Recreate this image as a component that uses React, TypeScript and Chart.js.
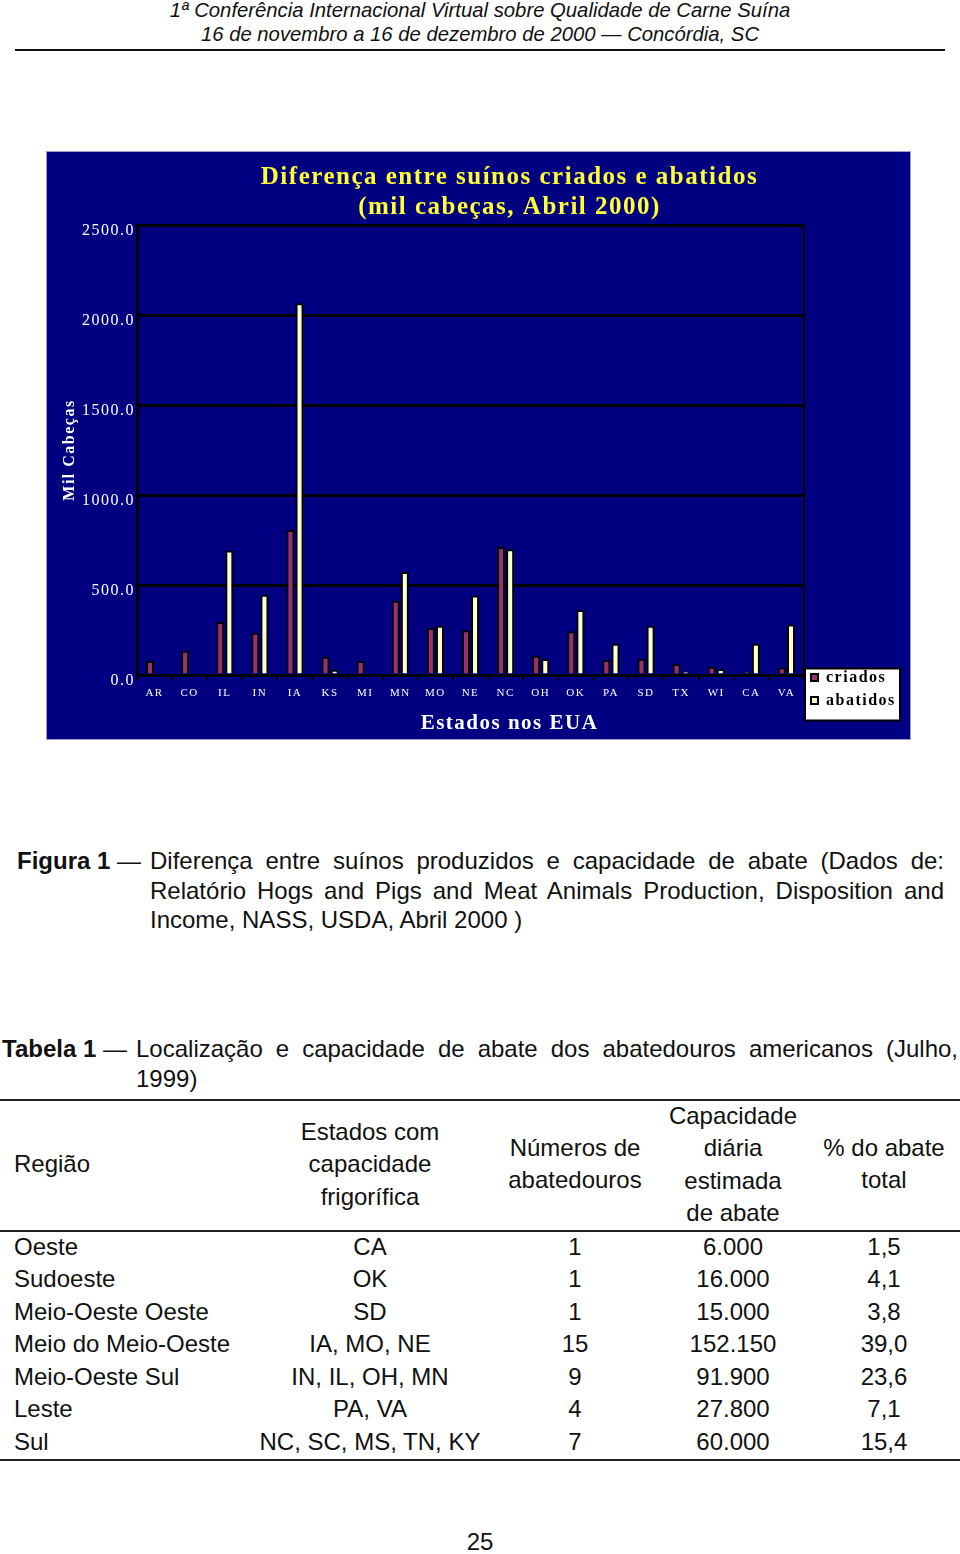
import React, { useEffect, useRef } from "react";
import { Chart, registerables } from "chart.js";

Chart.register(...registerables);

const SERIF = "'Liberation Serif', 'Times New Roman', serif";
const SANS = "'Liberation Sans', Arial, Helvetica, sans-serif";

// ---- chart data ----
const states = ["AR", "CO", "IL", "IN", "IA", "KS", "MI", "MN", "MO", "NE", "NC", "OH", "OK", "PA", "SD", "TX", "WI", "CA", "VA"];
const criados = [78, 135, 294, 235, 806, 102, 78, 413, 261, 248, 711, 107, 243, 83, 89, 61, 46, 20, 41];
const abatidos = [0, 0, 691, 446, 2065, 28, 0, 572, 274, 441, 698, 89, 361, 174, 274, 20, 33, 174, 280];
const seriesNames = ["criados", "abatidos"];
const chartTitle = ["Diferença entre suínos criados e abatidos", "(mil cabeças, Abril 2000)"];
const yAxisTitle = "Mil Cabeças";
const xAxisTitle = "Estados nos EUA";
const yMin = 0;
const yMax = 2500;
const yStep = 500;

// ---- page text ----
const headerLines = [
  "1ª Conferência Internacional Virtual sobre Qualidade de Carne Suína",
  "16 de novembro a 16 de dezembro de 2000 — Concórdia, SC",
];
const figLabel = "Figura 1";
const figLines = [
  "Diferença entre suínos produzidos e capacidade de abate (Dados de:",
  "Relatório Hogs and Pigs and Meat Animals Production, Disposition and",
  "Income, NASS, USDA, Abril 2000 )",
];
const tabLabel = "Tabela 1";
const tabLines = [
  "Localização e capacidade de abate dos abatedouros americanos (Julho,",
  "1999)",
];
const regioes = ["Oeste", "Sudoeste", "Meio-Oeste Oeste", "Meio do Meio-Oeste", "Meio-Oeste Sul", "Leste", "Sul"];
const estados = ["CA", "OK", "SD", "IA, MO, NE", "IN, IL, OH, MN", "PA, VA", "NC, SC, MS, TN, KY"];
const numeros = ["1", "1", "1", "15", "9", "4", "7"];
const capacidades = ["6.000", "16.000", "15.000", "152.150", "91.900", "27.800", "60.000"];
const percentuais = ["1,5", "4,1", "3,8", "39,0", "23,6", "7,1", "15,4"];
const pageNumber = "25";

function BarChart() {
  const ref = useRef<HTMLCanvasElement | null>(null);
  useEffect(() => {
    const canvas = ref.current;
    if (!canvas) return;
    const spacing = {
      id: "letterSpacingPlugin",
      beforeLayout(c: any) {
        c.ctx.letterSpacing = "1.5px";
      },
      beforeDraw(c: any) {
        c.ctx.letterSpacing = "1.5px";
      },
    };
    const legendFrame = {
      id: "legendFrame",
      beforeDraw(c: any) {
        const lg = c.legend;
        const hb = lg && lg.legendHitBoxes;
        if (!hb || hb.length < 2) return;
        const ctx = c.ctx;
        const last = hb[hb.length - 1];
        const x = lg.left + 1;
        const y = hb[0].top - 1;
        const w = 95;
        const h = last.top + last.height + 12 - y;
        ctx.save();
        ctx.fillStyle = "#ffffff";
        ctx.fillRect(x, y, w, h);
        ctx.lineWidth = 2;
        ctx.strokeStyle = "#000000";
        ctx.strokeRect(x, y, w, h);
        ctx.restore();
      },
    };
    const chart = new Chart(canvas, {
      type: "bar",
      data: {
        labels: states,
        datasets: [
          {
            label: seriesNames[0],
            data: criados,
            backgroundColor: "#993366",
            borderColor: "#000000",
            borderWidth: 2,
            categoryPercentage: 0.52,
            barPercentage: 0.88,
            yAxisID: "y",
          },
          {
            label: seriesNames[1],
            data: abatidos,
            backgroundColor: "#FFFFCC",
            borderColor: "#000000",
            borderWidth: 2,
            categoryPercentage: 0.52,
            barPercentage: 0.88,
            yAxisID: "y",
          },
        ],
      },
      options: {
        responsive: false,
        maintainAspectRatio: false,
        animation: false,
        devicePixelRatio: 1,
        layout: { padding: { left: 32, right: -30, top: 0, bottom: 23.5 } },
        plugins: {
          title: {
            display: true,
            text: chartTitle,
            color: "#FFFF33",
            font: { family: SERIF, size: 25, weight: "bold", lineHeight: 1.2 },
            padding: { top: 11, bottom: 2 },
          },
          subtitle: {
            display: true,
            position: "bottom",
            text: xAxisTitle,
            color: "#FFFFFF",
            font: { family: SERIF, size: 21, weight: "bold", lineHeight: 1.2 },
            padding: { top: 6.4, bottom: -21.1 },
          },
          legend: {
            display: true,
            position: "right",
            align: "end",
            labels: {
              color: "#000000",
              font: { family: SERIF, size: 16, weight: "bold" },
              boxWidth: 7,
              boxHeight: 7,
              padding: 7,
            },
          },
          tooltip: { enabled: false },
        },
        scales: {
          x: {
            type: "category",
            offset: true,
            grid: {
              display: true,
              offset: true,
              drawOnChartArea: true,
              drawTicks: true,
              tickLength: 5,
              color: (c: any) => (c.type === "scale" ? "#000000" : "rgba(0,0,0,0)"),
              tickColor: "#000000",
              lineWidth: 2,
            },
            border: { display: true, color: "#000000", width: 3 },
            ticks: {
              color: "#FFFFFF",
              font: { family: SERIF, size: 11 },
              padding: 7,
              maxRotation: 0,
              autoSkip: false,
            },
            afterFit: (s: any) => {
              s.height = 30;
            },
          },
          y: {
            position: "left",
            min: yMin,
            max: yMax,
            ticks: {
              stepSize: yStep,
              color: "#FFFFFF",
              font: { family: SERIF, size: 16 },
              padding: 2,
              labelOffset: 6,
              callback: (v: any) => Number(v).toFixed(1),
            },
            grid: { color: "#000000", lineWidth: 3, drawTicks: false },
            border: { display: true, color: "#000000", width: 3 },
            title: {
              display: true,
              text: yAxisTitle,
              color: "#FFFFFF",
              font: { family: SERIF, size: 16, weight: "bold", lineHeight: 1.2 },
              padding: { top: -18.6, bottom: 0 },
            },
            afterFit: (s: any) => {
              s.width = 58;
            },
          },
          spacer: {
            type: "linear",
            position: "right",
            weight: 2000,
            display: true,
            min: 0,
            max: 1,
            grid: { display: false, drawTicks: false },
            ticks: { display: false },
            border: { display: false },
            afterFit: (s: any) => {
              const lw = s.chart.legend ? s.chart.legend.width : 0;
              s.width = Math.max(0, 136 - lw);
            },
          },
        },
      } as any,
      plugins: [spacing, legendFrame],
    });
    return () => chart.destroy();
  }, []);
  return (
    <canvas
      ref={ref}
      width={863}
      height={587}
      style={{
        position: "absolute",
        left: 47,
        top: 152,
        width: 863,
        height: 587,
        background: "#000080",
        boxShadow: "0 0 0 1px #9a9ad0",
      }}
    />
  );
}

const abs = (x: number, y: number, w: number, lh: number, extra: any = {}) => ({
  position: "absolute" as const,
  left: x,
  top: y - lh / 2,
  width: w,
  lineHeight: lh + "px",
  whiteSpace: "nowrap" as const,
  ...extra,
});

function Centered({ cx, cy, text, size = 24, lh = 32.5, extra = {} }: any) {
  return <div style={abs(cx - 200, cy, 400, lh, { textAlign: "center", fontSize: size, ...extra })}>{text}</div>;
}

export default function App() {
  const bodyFont = { fontFamily: SANS, color: "#111" };
  const rowY = (i: number) => 1247 + 32.5 * i;
  return (
    <div style={{ position: "absolute", left: 0, top: 0, width: 960, height: 1554, background: "#fff", overflow: "hidden", ...bodyFont }}>
      {/* header */}
      {headerLines.map((t, i) => (
        <div key={"h" + i} style={abs(0, 10 + 24 * i, 960, 24, { textAlign: "center", fontSize: 20.3, fontStyle: "italic" })}>
          {t}
        </div>
      ))}
      <div style={{ position: "absolute", left: 15, top: 49, width: 930, height: 2, background: "#111" }} />

      <BarChart />

      {/* figure caption */}
      <div style={abs(17, 861, 130, 29.5, { fontSize: 24 })}>
        <b>{figLabel}</b> —
      </div>
      {figLines.map((t, i) => (
        <div
          key={"f" + i}
          style={abs(150, 861 + 29.5 * i, 794, 29.5, {
            fontSize: 24,
            whiteSpace: "normal",
            textAlign: i < figLines.length - 1 ? "justify" : "left",
            textAlignLast: i < figLines.length - 1 ? "justify" : "left",
          })}
        >
          {t}
        </div>
      ))}

      {/* table caption */}
      <div style={abs(2, 1049, 134, 29.5, { fontSize: 24 })}>
        <b>{tabLabel}</b> —
      </div>
      {tabLines.map((t, i) => (
        <div
          key={"t" + i}
          style={abs(136, 1049 + 29.5 * i, 822, 29.5, {
            fontSize: 24,
            whiteSpace: "normal",
            textAlign: i < tabLines.length - 1 ? "justify" : "left",
            textAlignLast: i < tabLines.length - 1 ? "justify" : "left",
          })}
        >
          {t}
        </div>
      ))}

      {/* table rules */}
      <div style={{ position: "absolute", left: 0, top: 1099, width: 960, height: 1.5, background: "#222" }} />
      <div style={{ position: "absolute", left: 0, top: 1230, width: 960, height: 1.5, background: "#222" }} />
      <div style={{ position: "absolute", left: 0, top: 1459, width: 960, height: 1.5, background: "#222" }} />

      {/* table header */}
      <div style={abs(14, 1164, 200, 32.5, { fontSize: 24 })}>Região</div>
      {["Estados com", "capacidade", "frigorífica"].map((t, i) => (
        <Centered key={"e" + i} cx={370} cy={1132 + 32.5 * i} text={t} />
      ))}
      {["Números de", "abatedouros"].map((t, i) => (
        <Centered key={"n" + i} cx={575} cy={1148 + 32.5 * i} text={t} />
      ))}
      {["Capacidade", "diária", "estimada", "de abate"].map((t, i) => (
        <Centered key={"c" + i} cx={733} cy={1116 + 32.5 * i} text={t} />
      ))}
      {["% do abate", "total"].map((t, i) => (
        <Centered key={"p" + i} cx={884} cy={1148 + 32.5 * i} text={t} />
      ))}

      {/* table body */}
      {regioes.map((r, i) => (
        <React.Fragment key={"r" + i}>
          <div style={abs(14, rowY(i), 240, 32.5, { fontSize: 24 })}>{r}</div>
          <Centered cx={370} cy={rowY(i)} text={estados[i]} />
          <Centered cx={575} cy={rowY(i)} text={numeros[i]} />
          <Centered cx={733} cy={rowY(i)} text={capacidades[i]} />
          <Centered cx={884} cy={rowY(i)} text={percentuais[i]} />
        </React.Fragment>
      ))}

      <Centered cx={480} cy={1542} text={pageNumber} size={24} lh={30} />
    </div>
  );
}
